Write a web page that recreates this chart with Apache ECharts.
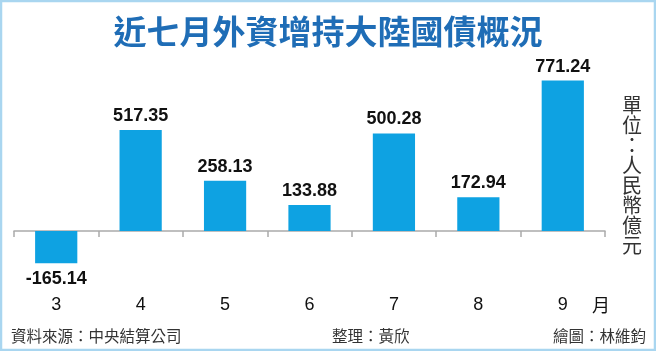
<!DOCTYPE html>
<html>
<head>
<meta charset="utf-8">
<script src="https://cdn.jsdelivr.net/npm/echarts@6/dist/echarts.min.js"></script>
<style>
html,body{margin:0;padding:0;background:#fff;}
#c{width:656px;height:351px;}
</style>
</head>
<body>
<div id="c"></div>
<script>
const titleText = '近七月外資增持大陸國債概況';
const months = ['3', '4', '5', '6', '7', '8', '9'];
const values = [-165.14, 517.35, 258.13, 133.88, 500.28, 172.94, 771.24];
const unitText = '單位：人民幣億元';
const sourceText = '資料來源：中央結算公司';
const editorText = '整理：黃欣';
const artistText = '繪圖：林維鈞';

const chart = echarts.init(document.getElementById('c'));
const cjk = '"Noto Sans CJK TC", "Noto Sans CJK SC", sans-serif';
const numFont = '"Liberation Sans", Arial, sans-serif';

chart.setOption({
  animation: false,
  backgroundColor: '#ffffff',
  title: {
    text: titleText,
    left: 'center',
    top: 10,
    textStyle: { color: '#1f6db6', fontSize: 33, fontWeight: 'bold', fontFamily: cjk }
  },
  grid: { left: 14, right: 51, top: 75, height: 195 },
  xAxis: {
    type: 'category',
    data: months,
    axisLine: { onZero: true, lineStyle: { color: '#aaaaaa', width: 1.5 } },
    axisTick: { show: true, length: 6, lineStyle: { color: '#aaaaaa', width: 1.5 } },
    axisLabel: { margin: 26, color: '#111', fontSize: 18, fontFamily: numFont }
  },
  yAxis: {
    type: 'value', min: -200, max: 800, show: false,
    splitLine: { show: false }
  },
  series: [{
    type: 'bar',
    barWidth: '50%',
    itemStyle: { color: '#0ea2e2' },
    data: values.map(v => ({
      value: v,
      label: { position: v < 0 ? 'bottom' : 'top', distance: v < 0 ? 7 : 5 }
    })),
    label: {
      show: true,
      color: '#111',
      fontSize: 18,
      fontWeight: 'bold',
      fontFamily: numFont,
      formatter: p => p.value.toFixed(2)
    }
  }],
  graphic: [
    { type: 'rect', shape: { x: 1, y: 1, width: 654, height: 349 }, style: { fill: 'none', stroke: '#a9d6f0', lineWidth: 2.5 }, silent: true },
    { type: 'text', left: 592, top: 296, style: { text: '月', fontSize: 18, fill: '#111', fontFamily: cjk } },
    { type: 'text', left: 622, top: 95, style: { text: unitText.split('').join('\n'), fontSize: 20, lineHeight: 20, fill: '#333', fontFamily: cjk, align: 'center' } },
    { type: 'text', left: 11, top: 328, style: { text: sourceText, fontSize: 15.5, fill: '#333', fontFamily: cjk } },
    { type: 'text', left: 332, top: 328, style: { text: editorText, fontSize: 15.5, fill: '#333', fontFamily: cjk } },
    { type: 'text', right: 10, top: 328, style: { text: artistText, fontSize: 15.5, fill: '#333', fontFamily: cjk } }
  ]
});
</script>
</body>
</html>
